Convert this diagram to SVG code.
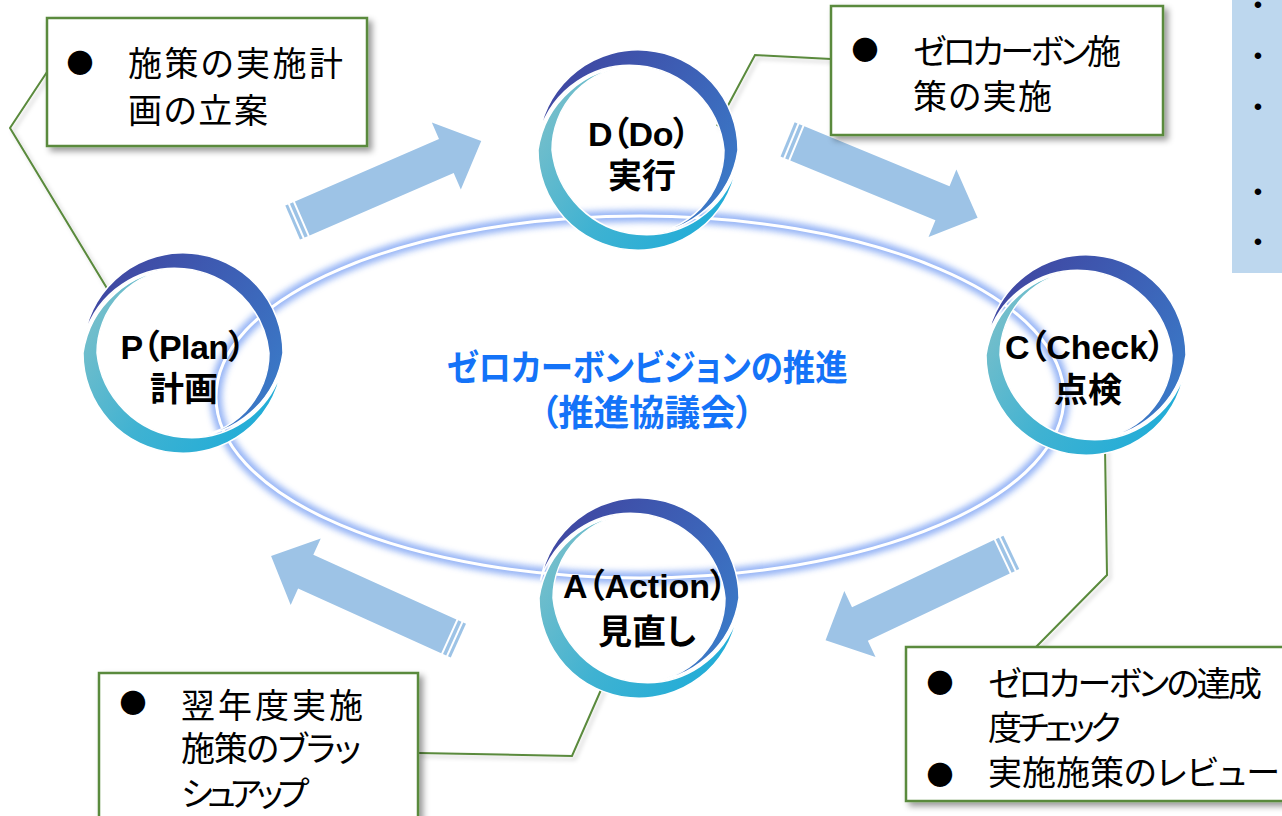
<svg xmlns="http://www.w3.org/2000/svg" width="1282" height="816" viewBox="0 0 1282 816">
<style>
.lbl{font-family:"Liberation Sans","Noto Sans CJK JP","Noto Sans CJK SC",sans-serif;font-weight:700;font-size:34px;fill:#000;text-anchor:middle;font-feature-settings:"palt" 1}
.note{font-family:"Liberation Sans","Noto Sans CJK JP","Noto Sans CJK SC",sans-serif;font-size:34px;fill:#000;font-feature-settings:"palt" 1}
.bul{font-family:"Noto Sans CJK JP","Noto Sans CJK SC",sans-serif;font-size:27px;fill:#000;text-anchor:middle}
.box{fill:#fff;stroke:#5a8a3c;stroke-width:2.5}
.lead{fill:none;stroke:#5a8a3c;stroke-width:2}
.arw{fill:#9dc3e6}
.hub{font-family:"Liberation Sans","Noto Sans CJK JP","Noto Sans CJK SC",sans-serif;font-weight:700;font-size:36px;fill:#1473f8;text-anchor:middle;font-feature-settings:"palt" 1}
.sb{font-family:"Liberation Sans",Arial,sans-serif;font-size:24px;fill:#000;text-anchor:middle}
</style>
<defs>
<linearGradient id="gDark" x1="0" y1="0.2" x2="1" y2="0.8">
<stop offset="0" stop-color="#4045a0"/><stop offset="0.5" stop-color="#3d5fb5"/><stop offset="1" stop-color="#3a7cc9"/>
</linearGradient>
<linearGradient id="gTeal" x1="0" y1="0.2" x2="1" y2="0.8">
<stop offset="0" stop-color="#7bc0ca"/><stop offset="0.5" stop-color="#3fb2d2"/><stop offset="1" stop-color="#1eacd8"/>
</linearGradient>
<filter id="sh" x="-10%" y="-10%" width="125%" height="130%">
<feDropShadow dx="4" dy="4" stdDeviation="3" flood-color="#000" flood-opacity="0.4"/>
</filter>
<filter id="shl" x="-10%" y="-10%" width="130%" height="130%">
<feDropShadow dx="3" dy="3" stdDeviation="2" flood-color="#000" flood-opacity="0.2"/>
</filter>
<filter id="glow" x="-5%" y="-10%" width="110%" height="120%">
<feGaussianBlur stdDeviation="3"/>
</filter>
<g id="ring">
<path d="M -98.5,-17.4 A 100 100 0 0 1 100,0 A 98 98 0 0 1 5,84 A 84 84 0 0 0 86,0 A 94.5 94.5 0 0 0 -98.5,-17.4 Z" fill="url(#gDark)" stroke="#fff" stroke-width="1.5"/>
<path d="M 98.5,17.4 A 100 100 0 0 1 -100,0 A 98 98 0 0 1 -5,-84 A 84 84 0 0 0 -86,0 A 94.5 94.5 0 0 0 98.5,17.4 Z" fill="url(#gTeal)" stroke="#fff" stroke-width="1.5"/>
</g>
<g id="arrow">
<rect x="-1.5" y="-18.5" width="3" height="37"/>
<rect x="3.5" y="-18.5" width="3.5" height="37"/>
<path d="M 9,-18.5 L 166,-18.5 L 166,-36.5 L 204,0 L 166,36.5 L 166,18.5 L 9,18.5 Z"/>
</g>
</defs>
<rect x="0" y="0" width="1282" height="816" fill="#fff"/>

<g id="side-panel">
<rect x="1232" y="-5" width="60" height="278" fill="#bdd7ee"/>
<text class="sb" x="1258" y="13">•</text>
<text class="sb" x="1258" y="64">•</text>
<text class="sb" x="1258" y="115">•</text>
<text class="sb" x="1258" y="200">•</text>
<text class="sb" x="1258" y="250">•</text>
</g>

<g id="hub-ellipse">
<ellipse cx="640" cy="397" rx="424" ry="181" fill="none" stroke="#6a95f2" stroke-width="12" opacity="0.7" filter="url(#glow)"/>
<ellipse cx="640" cy="397" rx="424" ry="181" fill="none" stroke="#fff" stroke-width="3"/>
</g>

<g id="hub">
<text class="hub" x="647" y="381" textLength="401" lengthAdjust="spacingAndGlyphs">ゼロカーボンビジョンの推進</text>
<text class="hub" x="647" y="426" textLength="213" lengthAdjust="spacingAndGlyphs">（推進協議会）</text>
</g>

<g id="connectors">
<g class="arw">
<use href="#arrow" transform="translate(294,222) rotate(-23.4)"/>
<use href="#arrow" transform="translate(789,140) rotate(22.4)"/>
<use href="#arrow" transform="translate(1010,553) rotate(154.7)"/>
<use href="#arrow" transform="translate(457,640) rotate(204.3)"/>
</g>
<g id="leaders" filter="url(#shl)">
<polyline class="lead" points="47,72 10,128 108,290"/>
<polyline class="lead" points="831,59 755,55 717,126"/>
<polyline class="lead" points="1105,447 1107,575 1035,648"/>
<polyline class="lead" points="418,753 572,756 604,683"/>
</g>
</g>

<g id="node-plan">
<use href="#ring" transform="translate(183,353)"/>
<text class="lbl" x="183" y="359" textLength="125">P（Plan）</text>
<text class="lbl" x="184" y="401">計画</text>
</g>
<g id="node-do">
<use href="#ring" transform="translate(638,150)"/>
<text class="lbl" x="639" y="146" textLength="102">D（Do）</text>
<text class="lbl" x="642" y="188">実行</text>
</g>
<g id="node-check">
<use href="#ring" transform="translate(1086,355)"/>
<text class="lbl" x="1085" y="359" textLength="160">C（Check）</text>
<text class="lbl" x="1088" y="402">点検</text>
</g>
<g id="node-action">
<use href="#ring" transform="translate(639,598)"/>
<text class="lbl" x="645" y="598" textLength="164">A（Action）</text>
<text class="lbl" x="647" y="644">見直し</text>
</g>

<g id="note-plan">
<rect class="box" x="47" y="18" width="320" height="128" filter="url(#sh)"/>
<text class="bul" x="80" y="73">●</text>
<text class="note" x="128" y="76" textLength="215">施策の実施計</text>
<text class="note" x="128" y="123" textLength="140">画の立案</text>
</g>
<g id="note-do">
<rect class="box" x="831" y="6" width="332" height="129" filter="url(#sh)"/>
<text class="bul" x="865" y="60">●</text>
<text class="note" x="913" y="64" textLength="208">ゼロカーボン施</text>
<text class="note" x="913" y="109" textLength="139">策の実施</text>
</g>
<g id="note-check">
<rect class="box" x="906" y="647" width="390" height="154" filter="url(#sh)"/>
<text class="bul" x="940" y="693">●</text>
<text class="bul" x="940" y="785">●</text>
<text class="note" x="988" y="696" textLength="274">ゼロカーボンの達成</text>
<text class="note" x="988" y="740" textLength="133">度チェック</text>
<text class="note" x="988" y="785" textLength="292">実施施策のレビュー</text>
</g>
<g id="note-action">
<rect class="box" x="99" y="673" width="319" height="170" filter="url(#sh)"/>
<text class="bul" x="133" y="713">●</text>
<text class="note" x="181" y="718" textLength="182">翌年度実施</text>
<text class="note" x="181" y="761" textLength="180">施策のブラッ</text>
<text class="note" x="181" y="806" textLength="128">シュアップ</text>
</g>
</svg>
